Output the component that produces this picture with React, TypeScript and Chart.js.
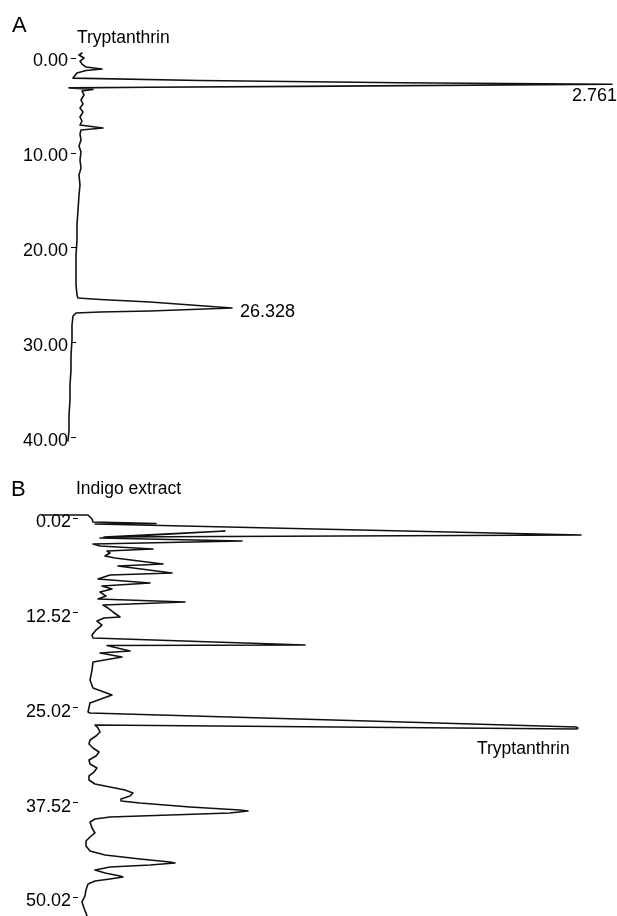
import React, { useEffect, useRef } from "react";
import { Chart, registerables } from "chart.js";

Chart.register(...registerables);

// Panel A: Tryptanthrin standard (retention time in min, detector response in a.u.)
const TIME_A = [
  -0.53, -0.32, 0.0, 0.32, 0.63, 0.95, 1.16, 1.32, 1.58, 2.11, 2.37, 2.61, 2.76, 2.98, 3.07, 3.14, 3.21, 3.32, 3.47,
  3.89, 4.42, 4.84, 5.26, 5.68, 6.21, 6.63, 7.05, 7.37, 7.58, 8.0, 8.63, 9.26, 9.89, 10.74, 11.58, 12.32, 13.37,
  14.42, 16.0, 17.58, 19.16, 20.74, 22.32, 23.89, 24.95, 25.26, 25.42, 25.68, 26.32, 26.63, 26.74, 26.84, 27.16,
  28.11, 29.68, 31.26, 32.84, 34.42, 36.0, 37.58, 39.16, 40.32,
];
const RESP_A = [
  6, 3, 8, 4, 6, 10, 26, 10, 1, -3, 124, 324, 536, 224, 74, -7, 2, 17, 6,
  8, 5, 7, 4, 7, 4, 6, 4, 27, 5, 4, 5, 3, 5, 4, 5, 3, 4,
  3, 2, 1, 1, 0, 0, 0, 1, 2, 24, 74, 156, 74, 24, 0, -3,
  -4, -4, -5, -5, -6, -6, -7, -7, -8,
];
const TICKS_A = [0, 10, 20, 30, 40];

// Panel B: Indigo extract
const TIME_B = [
  -0.38, -0.38, 0.15, 0.55, 0.74, 0.81, 2.26, 2.52, 1.73, 2.66, 3.05, 3.45, 3.71, 4.1, 4.37, 4.63, 5.03, 5.29,
  6.08, 6.34, 7.27, 7.53, 8.06, 8.58, 8.98, 9.37, 9.77, 10.3, 10.69, 11.09, 11.48, 11.88, 12.4, 13.06, 13.2,
  13.59, 14.12, 14.78, 15.44, 15.83, 16.75, 16.82, 17.54, 17.81, 18.33, 18.99, 20.05, 21.36, 22.42, 23.34,
  24.39, 25.58, 25.71, 27.56, 27.69, 27.82, 27.29,
  27.69, 28.21, 28.74, 29.27, 29.8, 30.32, 30.85, 31.38, 31.9, 32.43, 32.96, 33.49, 34.01, 34.54, 35.07,
  35.46, 35.86, 36.25, 36.65, 37.04, 37.31, 37.57, 38.1, 38.49, 38.62, 38.89, 39.15, 39.41, 39.68, 40.07,
  40.86, 41.52, 42.05, 42.58, 43.23, 43.89, 44.42, 44.95, 45.34, 45.47, 45.74, 46.0, 46.4, 46.79, 47.19,
  47.32, 47.58, 47.85, 48.24, 49.03, 49.82, 50.61, 51.4, 52.46,
];
const RESP_B = [
  -36, 10, 14, 15, 78, 17, 503, 26, 147, 22, 164, 15, 22, 75, 29, 32, 27, 37,
  85, 40, 94, 32, 20, 72, 24, 34, 22, 28, 20, 107, 25, 30, 35, 42, 26,
  19, 24, 18, 14, 15, 227, 29, 52, 22, 44, 15, 14, 12, 15, 34,
  12, 10, 12, 498, 500, 499, 17,
  20, 22, 18, 12, 11, 15, 21, 18, 11, 12, 19, 16, 11, 11, 17,
  32, 47, 55, 52, 43, 43, 62, 112, 162, 170, 152, 92, 32, 17, 12,
  14, 17, 12, 8, 8, 12, 27, 62, 92, 97, 72, 32, 17, 27, 42,
  45, 32, 17, 10, 8, 7, 4, 6, 9,
];
const TICKS_B = [0.02, 12.52, 25.02, 37.52, 50.02];

const FONT = "'Liberation Sans', Arial, Helvetica, sans-serif";
const INK = "#111";

type PanelCfg = {
  times: number[];
  resp: number[];
  ticks: number[];
  yMin: number;
  yMax: number;
  xMax: number;
  axisWidth: number;
  padTop: number;
  padBottom: number;
  tickPad: number;
  labelOffset: number;
};

function Panel(props: { cfg: PanelCfg; top: number; height: number }) {
  const ref = useRef<HTMLCanvasElement | null>(null);
  const { cfg } = props;
  useEffect(() => {
    if (!ref.current) return;
    const pts = cfg.times.map((t, i) => ({ x: cfg.resp[i], y: t }));
    const chart = new Chart(ref.current, {
      type: "scatter",
      data: {
        datasets: [
          {
            data: pts,
            showLine: true,
            borderColor: INK,
            borderWidth: 1.6,
            borderJoinStyle: "round",
            borderCapStyle: "round",
            pointRadius: 0,
            pointHoverRadius: 0,
            tension: 0,
            fill: false,
            clip: false,
          } as any,
        ],
      },
      options: {
        animation: false,
        responsive: false,
        maintainAspectRatio: false,
        events: [],
        layout: { padding: { left: 0, right: 1, top: cfg.padTop, bottom: cfg.padBottom } },
        plugins: { legend: { display: false }, tooltip: { enabled: false } },
        scales: {
          x: { type: "linear", display: false, min: 0, max: cfg.xMax },
          y: {
            type: "linear",
            position: "left",
            reverse: true,
            min: cfg.yMin,
            max: cfg.yMax,
            afterBuildTicks: (scale: any) => {
              scale.ticks = cfg.ticks.map((v) => ({ value: v }));
            },
            afterFit: (scale: any) => {
              scale.width = cfg.axisWidth;
            },
            ticks: {
              autoSkip: false,
              callback: (v: any) => Number(v).toFixed(2),
              font: { family: FONT, size: 18 },
              color: "#000",
              padding: cfg.tickPad,
              labelOffset: cfg.labelOffset,
            },
            grid: {
              display: true,
              drawOnChartArea: false,
              drawTicks: true,
              tickLength: 5,
              color: "#000",
              lineWidth: 1,
            },
            border: { display: false },
          },
        },
      } as any,
    });
    return () => chart.destroy();
  }, []);
  return (
    <canvas
      ref={ref}
      width={617}
      height={props.height}
      style={{ position: "absolute", left: 0, top: props.top, width: 617, height: props.height, display: "block" }}
    />
  );
}

const label = (text: string, left: number, top: number, size: number) => (
  <div
    style={{
      position: "absolute",
      left,
      top,
      fontFamily: FONT,
      fontSize: size,
      lineHeight: 1,
      color: "#000",
      whiteSpace: "nowrap",
    }}
  >
    {text}
  </div>
);

export default function App() {
  const cfgA: PanelCfg = {
    times: TIME_A,
    resp: RESP_A,
    ticks: TICKS_A,
    yMin: -0.53,
    yMax: 40.32,
    xMax: 540,
    axisWidth: 76,
    padTop: 53,
    padBottom: 19,
    tickPad: 3,
    labelOffset: 3,
  };
  const cfgB: PanelCfg = {
    times: TIME_B,
    resp: RESP_B,
    ticks: TICKS_B,
    yMin: -0.38,
    yMax: 52.46,
    xMax: 538,
    axisWidth: 78,
    padTop: 55,
    padBottom: 20,
    tickPad: 2,
    labelOffset: 4,
  };
  return (
    <div
      style={{
        position: "absolute",
        left: 0,
        top: 0,
        width: 617,
        height: 916,
        overflow: "hidden",
        background: "#fff",
      }}
    >
      <Panel cfg={cfgA} top={0} height={460} />
      <Panel cfg={cfgB} top={460} height={476} />
      {label("A", 12, 14, 22)}
      {label("Tryptanthrin", 77, 29, 17.5)}
      {label("2.761", 572, 86, 18)}
      {label("26.328", 240, 302, 18)}
      {label("B", 11, 478, 22)}
      {label("Indigo extract", 76, 480, 17.5)}
      {label("Tryptanthrin", 477, 740, 17.5)}
    </div>
  );
}
